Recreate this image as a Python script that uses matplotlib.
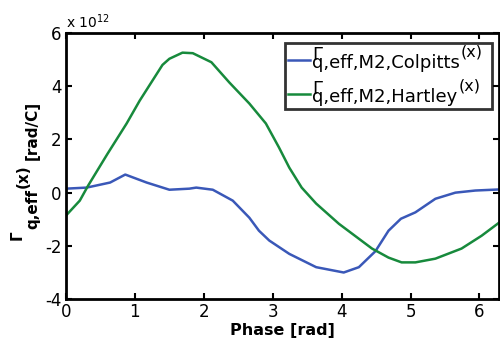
import numpy as np
import matplotlib
matplotlib.use("Agg")
import matplotlib.pyplot as plt
from matplotlib.legend_handler import HandlerLine2D

plt.rcParams['font.family'] = ['DejaVu Sans']
plt.rcParams['mathtext.fontset'] = 'dejavusans'
plt.rcParams['axes.unicode_minus'] = False

# Colpitts (blue), units of 1e12 rad/C
colp_x = [0.0, 0.3, 0.64, 0.86, 1.17, 1.5, 1.79, 1.89, 2.13, 2.42, 2.66, 2.8, 2.95, 3.24, 3.63, 4.03, 4.25, 4.49, 4.68, 4.86, 5.07, 5.36, 5.65, 5.94, 6.283]
colp_y = [0.15, 0.19, 0.38, 0.68, 0.38, 0.11, 0.15, 0.19, 0.11, -0.3, -0.94, -1.43, -1.8, -2.3, -2.8, -3.0, -2.8, -2.2, -1.43, -0.98, -0.74, -0.23, 0.0, 0.08, 0.12]

# Hartley (green)
hart_x = [0.0, 0.2, 0.32, 0.6, 0.88, 1.07, 1.4, 1.5, 1.69, 1.84, 2.11, 2.37, 2.66, 2.9, 3.09, 3.24, 3.42, 3.63, 3.96, 4.44, 4.68, 4.87, 5.07, 5.36, 5.74, 6.03, 6.283]
hart_y = [-0.86, -0.3, 0.26, 1.45, 2.6, 3.46, 4.8, 5.03, 5.26, 5.24, 4.9, 4.14, 3.35, 2.6, 1.7, 0.94, 0.19, -0.41, -1.17, -2.1, -2.44, -2.62, -2.62, -2.48, -2.1, -1.62, -1.13]

xticks = [0, 1, 2, 3, 4, 5, 6]
yticks = [-4, -2, 0, 2, 4, 6]
series_names = ['q,eff,M2,Colpitts', 'q,eff,M2,Hartley']

fig = plt.figure(figsize=(5.0, 3.47), dpi=100)
ax = fig.add_axes([0.132, 0.138, 0.866, 0.767])

blue = '#3a58b8'
green = '#178a3c'
l1, = ax.plot(colp_x, colp_y, color=blue, lw=1.8,
              label='\u0393\n' + series_names[0])
l2, = ax.plot(hart_x, hart_y, color=green, lw=1.8,
              label='\u0393\n' + series_names[1])

ax.set_xlim(0, 2 * np.pi)
ax.set_ylim(-4, 6)
ax.set_xticks(xticks)
ax.set_yticks(yticks)
ax.tick_params(direction='in', top=True, right=True, length=4, width=1.5,
               labelsize=12, pad=3)
for s in ax.spines.values():
    s.set_linewidth(2)

ax.set_xlabel('Phase [rad]', fontsize=11.5, fontweight='bold', labelpad=1)
ax.text(0.0, 1.008, r'x 10$^{12}$', transform=ax.transAxes, fontsize=10,
        ha='left', va='bottom')

# y label composed of pieces (raised Gamma, subscript, superscript)
ykw = dict(rotation=90, rotation_mode='anchor', ha='left', va='baseline',
           fontsize=11, fontweight='bold')
g = fig.text(22 / 500, 1 - 240 / 347, '\u0393', **ykw)
p1 = ax.annotate('q,eff', xy=(37 / 500, 1.0), xycoords=('figure fraction', g),
                 xytext=(0, 1), textcoords='offset points',
                 annotation_clip=False, **ykw)
p2 = ax.annotate('(x)', xy=(28 / 500, 1.0), xycoords=('figure fraction', p1),
                 xytext=(0, 0.5), textcoords='offset points',
                 annotation_clip=False, **ykw)
p3 = ax.annotate('[rad/C]', xy=(37 / 500, 1.0), xycoords=('figure fraction', p2),
                 xytext=(0, 3.5), textcoords='offset points',
                 annotation_clip=False, **ykw)

leg = ax.legend(handler_map={l1: HandlerLine2D(ypad=1.6),
                             l2: HandlerLine2D(ypad=1.6)},
                loc='upper left', bbox_to_anchor=(0.506, 0.5, 0.478, 0.462),
                mode='expand',
                fontsize=13, frameon=True, fancybox=False,
                edgecolor='black', handlelength=1.25, handletextpad=0.1,
                borderpad=0.15, labelspacing=0.45, borderaxespad=0.0)
leg.get_frame().set_linewidth(2)
for t in leg.get_texts():
    t.set_linespacing(0.3)
for t in leg.get_texts():
    ax.annotate('(x)', xy=(1, 1), xycoords=t, xytext=(0.5, 1),
                textcoords='offset points', ha='left', va='top',
                fontsize=11.5, zorder=10, annotation_clip=False)

fig.savefig('out.png', dpi=100)
